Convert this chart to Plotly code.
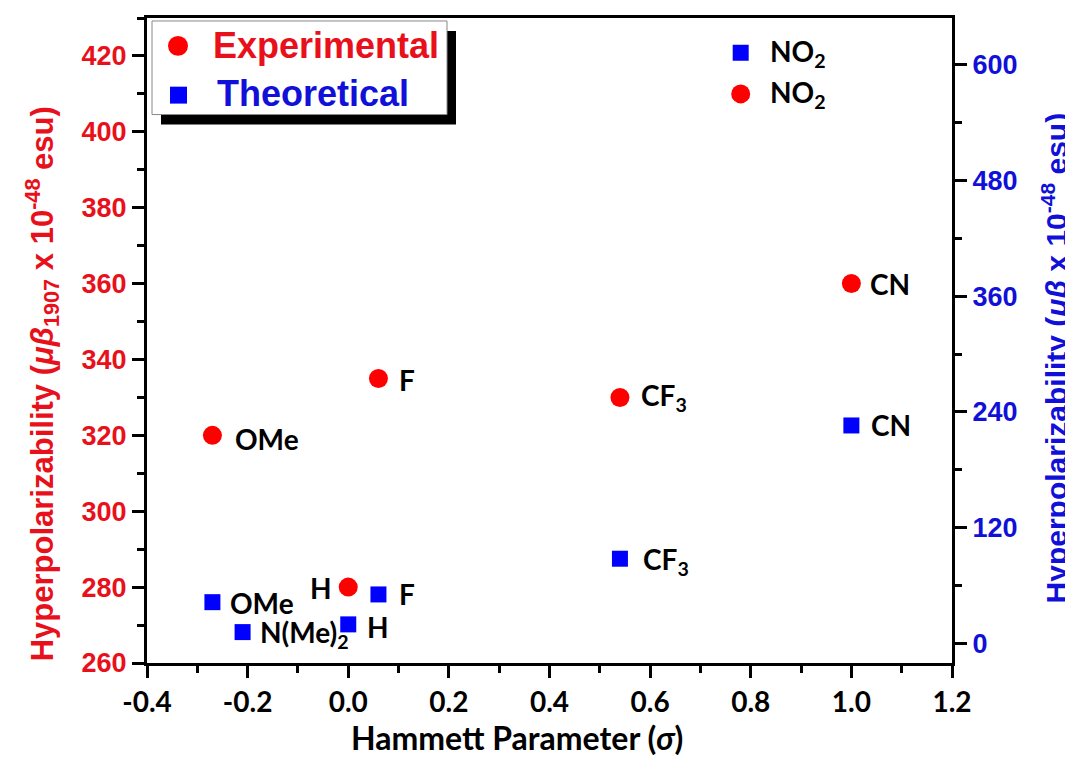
import plotly.graph_objects as go

# ---- data ----
exp_sigma = [-0.27, 0.0, 0.06, 0.54, 0.78, 1.0]
exp_beta = [320, 280, 335, 330, 410, 360]
exp_labels = ["OMe", "H", "F", "CF<sub>3</sub>", "NO<sub>2</sub>", "CN"]

theo_sigma = [-0.27, -0.21, 0.0, 0.06, 0.54, 0.78, 1.0]
theo_beta = [43, 12, 20, 51, 88, 612, 226]
theo_labels = ["OMe", "N(Me)<sub>2</sub>", "H", "F", "CF<sub>3</sub>", "NO<sub>2</sub>", "CN"]

x_tickvals = [-0.4, -0.2, 0.0, 0.2, 0.4, 0.6, 0.8, 1.0, 1.2]
x_ticktext = ["-0.4", "-0.2", "0.0", "0.2", "0.4", "0.6", "0.8", "1.0", "1.2"]

# label offsets (pixels; dy positive = below marker)
exp_lab_dx = [21, -14, 19, 19, 27, 17]
exp_lab_dy = [4, 1, 2, 0, 0, 0]
theo_lab_dx = [16, 15, 17, 19, 21, 27, 18]
theo_lab_dy = [1, 2, 3, 0, 2, 0, 0]

RED = "#FF0000"
BLUE = "#0000FF"
RED_T = "#E8101A"
BLUE_T = "#1010D8"

fig = go.Figure()
fig.add_trace(go.Scatter(x=exp_sigma, y=exp_beta, mode="markers", name="Experimental",
                         marker=dict(symbol="circle", size=19, color=RED, line=dict(width=0)),
                         yaxis="y", showlegend=False))
fig.add_trace(go.Scatter(x=theo_sigma, y=theo_beta, mode="markers", name="Theoretical",
                         marker=dict(symbol="square", size=16, color=BLUE, line=dict(width=0)),
                         yaxis="y2", showlegend=False))

lab_font = dict(family="Lato", size=28, color="black", weight="bold")
anns = []
for x, y, t, dx, dy in zip(exp_sigma, exp_beta, exp_labels, exp_lab_dx, exp_lab_dy):
    anns.append(dict(x=x, y=y, xref="x", yref="y", text=t, showarrow=False,
                     xanchor="left" if dx > 0 else "right", yanchor="middle",
                     xshift=dx, yshift=-dy, font=lab_font))
for x, y, t, dx, dy in zip(theo_sigma, theo_beta, theo_labels, theo_lab_dx, theo_lab_dy):
    anns.append(dict(x=x, y=y, xref="x", yref="y2", text=t, showarrow=False,
                     xanchor="left" if dx > 0 else "right", yanchor="middle",
                     xshift=dx, yshift=-dy, font=lab_font))

# pixel (page) -> paper helpers
W, H = 805.0, 648.0
def px(xp):
    return (xp - 147) / W
def py(yp):
    return (663 - yp) / H

# axis titles
anns.append(dict(xref="paper", yref="paper", x=px(42), y=py(383), textangle=-90,
                 text="Hyperpolarizability (<i>μβ</i><sub>1907</sub> x 10<sup>-48</sup> esu)",
                 showarrow=False, xanchor="center", yanchor="middle",
                 font=dict(family="Liberation Sans", size=31, color=RED_T, weight="bold")))
anns.append(dict(xref="paper", yref="paper", x=px(1055), y=py(357), textangle=-90,
                 text="Hyperpolarizability (<i>μβ</i> x 10<sup>-48</sup> esu)",
                 showarrow=False, xanchor="center", yanchor="middle",
                 font=dict(family="Liberation Sans", size=30, color=BLUE_T, weight="bold")))
anns.append(dict(xref="paper", yref="paper", x=px(517), y=py(738),
                 text="Hammett Parameter (<i>σ</i>)", showarrow=False,
                 xanchor="center", yanchor="middle",
                 font=dict(family="Lato", size=32, color="black", weight="bold")))

# manual legend
shapes = [
    dict(type="rect", xref="paper", yref="paper", x0=px(161), x1=px(456), y0=py(122), y1=py(28),
         fillcolor="black", line=dict(width=0), layer="above"),
    dict(type="rect", xref="paper", yref="paper", x0=px(152), x1=px(447), y0=py(112), y1=py(18),
         fillcolor="white", line=dict(color="#888888", width=1), layer="above"),
    dict(type="circle", xref="paper", yref="paper", x0=px(168), x1=px(188), y0=py(53), y1=py(33),
         fillcolor=RED, line=dict(width=0), layer="above"),
    dict(type="rect", xref="paper", yref="paper", x0=px(170), x1=px(187), y0=py(101), y1=py(84),
         fillcolor=BLUE, line=dict(width=0), layer="above"),
]
leg_font = dict(family="Liberation Sans", size=36, weight="bold")
anns.append(dict(xref="paper", yref="paper", x=px(211), y=py(43), text="Experimental",
                 showarrow=False, xanchor="left", yanchor="middle",
                 font=dict(leg_font, color=RED_T)))
anns.append(dict(xref="paper", yref="paper", x=px(215), y=py(91), text="Theoretical",
                 showarrow=False, xanchor="left", yanchor="middle",
                 font=dict(leg_font, color=BLUE_T)))

tick_common = dict(ticks="outside", ticklen=12, tickwidth=2.5, tickcolor="black",
                   showline=True, linecolor="black", linewidth=3, showgrid=False, zeroline=False)

# page body has an 8px margin, so the figure is sized/offset to compensate
fig.update_layout(
    width=1065, height=753,
    margin=dict(l=139, r=121, t=7, b=98),
    paper_bgcolor="white", plot_bgcolor="white",
    xaxis=dict(range=[-0.4, 1.2], tickvals=x_tickvals, ticktext=x_ticktext, mirror=True,
               tickfont=dict(family="Lato", size=28, color="black", weight="bold"),
               minor=dict(dtick=0.1, ticks="outside", ticklen=7, tickwidth=2.5, tickcolor="black"),
               **tick_common),
    yaxis=dict(range=[260, 430], dtick=20, tick0=260,
               tickfont=dict(family="Liberation Sans", size=27, color=RED_T, weight="bold"),
               minor=dict(dtick=10, ticks="outside", ticklen=7, tickwidth=2.5, tickcolor="black"),
               **tick_common),
    yaxis2=dict(range=[-20, 648], dtick=120, tick0=0, overlaying="y", side="right",
                tickfont=dict(family="Liberation Sans", size=27, color=BLUE_T, weight="bold"),
                minor=dict(dtick=60, ticks="outside", ticklen=7, tickwidth=2.5, tickcolor="black"),
                **tick_common),
    annotations=anns,
    shapes=shapes,
)

fig.write_html("out.html")
